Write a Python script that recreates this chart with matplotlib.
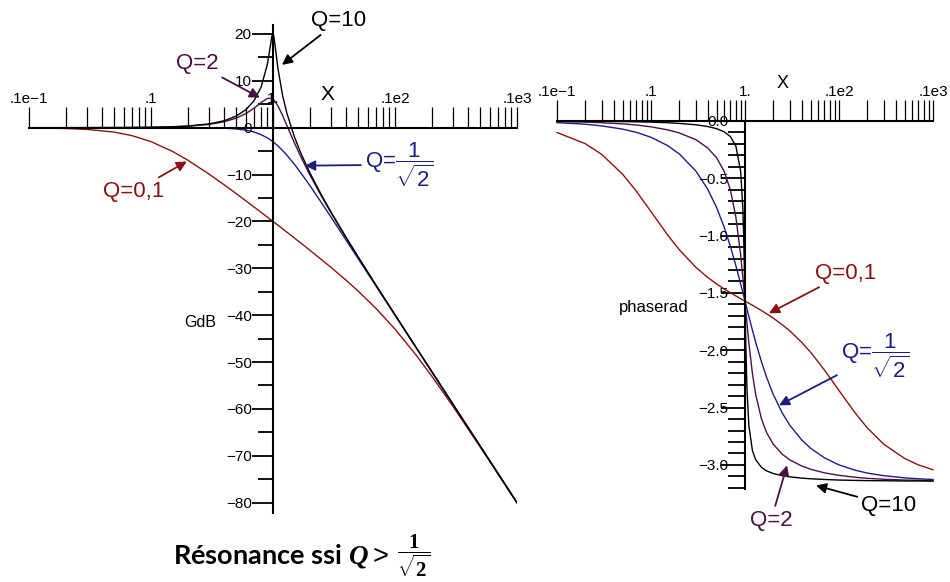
import numpy as np
import matplotlib
matplotlib.use('Agg')
import matplotlib.pyplot as plt
from matplotlib.ticker import FixedLocator, FixedFormatter, FuncFormatter, NullFormatter

plt.rcParams.update({
    'font.family': ['Liberation Sans', 'DejaVu Sans'],
    'mathtext.fontset': 'custom',
    'mathtext.rm': 'Liberation Sans',
    'mathtext.it': 'Liberation Sans:italic',
    'mathtext.bf': 'Liberation Serif:bold',
    'axes.unicode_minus': True,
})
if 'mathtext.bfit' in plt.rcParams:
    plt.rcParams['mathtext.bfit'] = 'Liberation Serif:italic:bold'

# reduced pulsation x = w / w0
x_ratio = [0.01, 0.02, 0.03, 0.05, 0.07, 0.1, 0.15, 0.2, 0.3, 0.4, 0.5, 0.6, 0.7, 0.8,
           0.9, 0.95, 0.98, 0.99, 1.0, 1.01, 1.02, 1.05, 1.1, 1.2, 1.3, 1.5, 1.7, 2,
           2.5, 3, 4, 5, 7, 10, 15, 20, 30, 50, 70, 100]

# gain in dB
gain_q10 = [0.00, 0.00, 0.01, 0.02, 0.04, 0.09, 0.20, 0.35, 0.81, 1.50, 2.48, 3.84, 5.77, 8.67,
            13.55, 17.32, 19.52, 19.92, 20.00, 19.75, 19.20, 16.67, 12.50, 6.82, 3.07, -2.00, -5.56, -9.56,
            -14.41, -18.07, -23.52, -27.61, -33.63, -39.91, -47.01, -52.02, -59.08, -67.96, -73.80, -80.00]
gain_q2 = [0.00, 0.00, 0.01, 0.02, 0.04, 0.08, 0.17, 0.31, 0.70, 1.27, 2.04, 3.01, 4.17, 5.38,
           6.22, 6.29, 6.17, 6.10, 6.02, 5.93, 5.82, 5.43, 4.60, 2.57, 0.46, -3.27, -6.33, -10.00,
           -14.64, -18.21, -23.60, -27.65, -33.65, -39.92, -47.01, -52.02, -59.08, -67.96, -73.80, -80.00]
gain_qc = [0.00, 0.00, 0.00, 0.00, 0.00, 0.00, 0.00, -0.01, -0.04, -0.11, -0.26, -0.53, -0.93, -1.49,
           -2.19, -2.59, -2.84, -2.92, -3.01, -3.10, -3.19, -3.45, -3.92, -4.88, -5.86, -7.83, -9.71, -12.30,
           -16.03, -19.14, -24.10, -27.97, -33.81, -40.00, -47.04, -52.04, -59.09, -67.96, -73.80, -80.00]
gain_q01 = [-0.04, -0.17, -0.37, -0.95, -1.70, -2.97, -5.06, -6.92, -9.92, -12.23, -14.08, -15.61, -16.92, -18.07,
            -19.09, -19.55, -19.82, -19.91, -20.00, -20.09, -20.17, -20.42, -20.83, -21.59, -22.29, -23.55, -24.66, -26.12,
            -28.15, -29.84, -32.61, -34.88, -38.58, -42.97, -48.61, -52.99, -59.53, -68.13, -73.89, -80.04]

# phase in rad
phase_q10 = [-0.001, -0.002, -0.003, -0.005, -0.007, -0.010, -0.015, -0.021, -0.033, -0.048, -0.067, -0.094, -0.136, -0.219,
             -0.442, -0.772, -1.187, -1.372, -1.571, -1.767, -1.948, -2.344, -2.659, -2.875, -2.955, -3.022, -3.052, -3.075,
             -3.094, -3.104, -3.115, -3.121, -3.127, -3.132, -3.135, -3.137, -3.138, -3.140, -3.140, -3.141]
phase_q2 = [-0.005, -0.010, -0.015, -0.025, -0.035, -0.051, -0.077, -0.104, -0.163, -0.234, -0.322, -0.438, -0.602, -0.838,
            -1.171, -1.368, -1.490, -1.531, -1.571, -1.611, -1.650, -1.764, -1.936, -2.204, -2.386, -2.601, -2.719, -2.820,
            -2.908, -2.956, -3.009, -3.038, -3.069, -3.091, -3.108, -3.117, -3.125, -3.132, -3.134, -3.137]
phase_qc = [-0.014, -0.028, -0.043, -0.071, -0.099, -0.142, -0.214, -0.287, -0.436, -0.593, -0.756, -0.925, -1.095, -1.262,
            -1.423, -1.498, -1.542, -1.557, -1.571, -1.585, -1.599, -1.640, -1.705, -1.825, -1.930, -2.103, -2.237, -2.386,
            -2.549, -2.654, -2.781, -2.855, -2.938, -3.000, -3.047, -3.071, -3.094, -3.113, -3.121, -3.127]
phase_q01 = [-0.100, -0.198, -0.292, -0.465, -0.613, -0.790, -0.993, -1.123, -1.276, -1.364, -1.422, -1.465, -1.498, -1.526,
             -1.550, -1.561, -1.567, -1.569, -1.571, -1.573, -1.575, -1.581, -1.590, -1.607, -1.624, -1.654, -1.682, -1.720,
             -1.778, -1.831, -1.930, -2.018, -2.172, -2.351, -2.551, -2.677, -2.820, -2.944, -3.000, -3.042]

decades = [0.01, 0.1, 1, 10, 100]
decade_labels = ['.1e\u22121', '.1', '1.', '.1e2', '.1e3']
gain_major = list(range(-80, 21, 10))
gain_minor = list(range(-75, 20, 10))
phase_major = [0.0, -0.5, -1.0, -1.5, -2.0, -2.5, -3.0]
phase_minor = [-0.1 * k for k in range(1, 33) if k % 5 != 0]

RED = '#8c1212'
BLUE = '#1c1c86'
PURPLE = '#4c0f48'
BLACK = '#000000'
LW = 1.0
SPINE_W = 1.5
TICK_W = 1.3
LABEL_SIZE = 16


def style_axes(ax, ylo, yhi, ybottom):
    ax.set_xscale('log')
    ax.set_xlim(decades[0], decades[-1])
    ax.set_ylim(ylo, yhi)
    ax.patch.set_visible(False)
    for side in ('top', 'right'):
        ax.spines[side].set_visible(False)
    ax.spines['bottom'].set_position(('data', 0))
    ax.spines['left'].set_position(('data', 1))
    ax.spines['left'].set_bounds(ybottom, yhi)
    for side in ('bottom', 'left'):
        ax.spines[side].set_linewidth(SPINE_W)
    ax.xaxis.set_major_locator(FixedLocator(decades))
    ax.xaxis.set_major_formatter(FixedFormatter(decade_labels))
    ax.xaxis.set_minor_locator(FixedLocator([m * d for d in decades[:-1] for m in range(2, 10)]))
    ax.xaxis.set_minor_formatter(NullFormatter())
    ax.tick_params(axis='x', which='both', direction='in', length=15, width=0.9, pad=-26, labelsize=11)


def phase_fmt(v, pos):
    s = f'{abs(v):.1f}'
    return s if abs(v) < 1e-9 else '\u2212' + s


fig = plt.figure(figsize=(9.5, 5.82), dpi=100)

# ---- gain ----
ax1 = fig.add_axes([0.0305, 0.1186, 0.5137, 0.8392])
style_axes(ax1, -82.2, 22, -82.2)
ax1.yaxis.set_major_locator(FixedLocator(gain_major))
ax1.yaxis.set_minor_locator(FixedLocator(gain_minor))
ax1.tick_params(axis='y', which='major', direction='out', length=15, width=TICK_W, pad=0.3, labelsize=11)
ax1.tick_params(axis='y', which='minor', direction='out', length=11, width=TICK_W)

ax1.plot(x_ratio, gain_q01, color=RED, lw=LW)
ax1.plot(x_ratio, gain_qc, color=BLUE, lw=LW)
ax1.plot(x_ratio, gain_q2, color=PURPLE, lw=LW)
ax1.plot(x_ratio, gain_q10, color=BLACK, lw=LW)

ax1.text(2.82, 7.0, 'X', fontsize=15, ha='center', va='center')
ax1.text(0.252, -41.5, 'GdB', fontsize=11.5, ha='center', va='center')

arrow = dict(arrowstyle='-|>', lw=1.3, mutation_scale=15, shrinkA=1, shrinkB=0)
ax1.annotate('Q=10', xy=(1.185, 13.4), xytext=(3.47, 22.8), fontsize=LABEL_SIZE, color=BLACK,
             ha='center', va='center', annotation_clip=False, arrowprops=dict(arrow, color=BLACK))
ax1.annotate('Q=2', xy=(0.782, 6.4), xytext=(0.238, 13.6), fontsize=LABEL_SIZE, color=PURPLE,
             ha='center', va='center', arrowprops=dict(arrow, color=PURPLE))
ax1.annotate(r'Q=$\dfrac{1}{\sqrt{2}}$', xy=(1.83, -8.1), xytext=(5.68, -7.9), fontsize=LABEL_SIZE, color=BLUE,
             ha='left', va='center', arrowprops=dict(arrow, color=BLUE))
ax1.annotate('Q=0,1', xy=(0.197, -7.2), xytext=(0.0726, -13.6), fontsize=LABEL_SIZE, color=RED,
             ha='center', va='center', arrowprops=dict(arrow, color=RED))

# ---- phase ----
ax2 = fig.add_axes([0.5863, 0.1598, 0.3958, 0.6323])
style_axes(ax2, -3.21, 0.0, -3.21)
ax2.yaxis.set_major_locator(FixedLocator(phase_major))
ax2.yaxis.set_major_formatter(FuncFormatter(phase_fmt))
ax2.yaxis.set_minor_locator(FixedLocator(phase_minor))
ax2.tick_params(axis='y', which='major', direction='out', length=17, width=TICK_W, pad=-5, labelsize=11)
ax2.tick_params(axis='y', which='minor', direction='out', length=12, width=TICK_W)

for vals, c in ((phase_q01, RED), (phase_qc, BLUE), (phase_q2, PURPLE), (phase_q10, BLACK)):
    ax2.plot(x_ratio, vals, color=c, lw=LW, clip_on=False)

ax2.text(2.54, 0.33, 'X', fontsize=13, ha='center', va='center')
ax2.text(0.1076, -1.624, 'phaserad', fontsize=12, ha='center', va='center')

ax2.annotate('Q=0,1', xy=(1.80, -1.677), xytext=(11.87, -1.328), fontsize=LABEL_SIZE, color=RED,
             ha='center', va='center', arrowprops=dict(arrow, color=RED))
ax2.annotate(r'Q=$\dfrac{1}{\sqrt{2}}$', xy=(2.30, -2.48), xytext=(10.5, -2.044), fontsize=LABEL_SIZE, color=BLUE,
             ha='left', va='center', arrowprops=dict(arrow, color=BLUE))
ax2.annotate('Q=2', xy=(2.80, -3.004), xytext=(1.89, -3.485), fontsize=LABEL_SIZE, color=PURPLE,
             ha='center', va='center', annotation_clip=False, arrowprops=dict(arrow, color=PURPLE))
ax2.annotate('Q=10', xy=(5.69, -3.179), xytext=(34.0, -3.354), fontsize=LABEL_SIZE, color=BLACK,
             ha='center', va='center', annotation_clip=False, arrowprops=dict(arrow, color=BLACK))

# caption under the gain panel
fig.text(0.409, 0.045, r'Résonance ssi $\mathbfit{Q} >$', fontsize=19.5, fontweight='bold',
         family=['Lato', 'DejaVu Sans'], ha='right', va='center')
fig.text(0.418, 0.046, r'$\dfrac{\mathbf{1}}{\sqrt{\mathbf{2}}}$', fontsize=15, ha='left', va='center')

fig.savefig('out.png', dpi=100)
